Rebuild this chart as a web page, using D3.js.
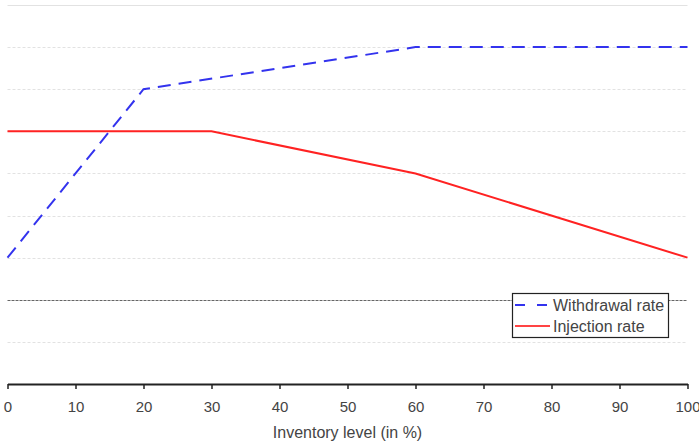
<!DOCTYPE html>
<html>
<head>
<meta charset="utf-8">
<script src="https://cdn.jsdelivr.net/npm/d3@7"></script>
<style>
  body { margin: 0; background: #fff; }
  svg { display: block; font-family: "Liberation Sans", Arial, sans-serif; }
</style>
</head>
<body>
<svg id="chart" width="699" height="448"></svg>
<script>
// inventory level (%) breakpoints and rates (arbitrary units, y axis unlabeled)
const withdrawalX = [0, 20, 60, 100];
const withdrawalY = [1, 5, 6, 6];
const injectionX = [0, 30, 60, 100];
const injectionY = [4, 4, 3, 1];
const xTicks = [0, 10, 20, 30, 40, 50, 60, 70, 80, 90, 100];
const yGrid = [-1, 0, 1, 2, 3, 4, 5, 6, 7];
const seriesNames = ["Withdrawal rate", "Injection rate"];

const width = 699, height = 448;
const margin = { top: 5, right: 11.5, bottom: 64, left: 7.5 };

const svg = d3.select("#chart");

const x = d3.scaleLinear()
    .domain([0, 100])
    .range([margin.left, width - margin.right]);

const y = d3.scaleLinear()
    .domain([-2, 7])
    .range([height - margin.bottom, margin.top]);

// gridlines
svg.append("g")
    .selectAll("line")
    .data(yGrid)
    .join("line")
    .attr("x1", x(0))
    .attr("x2", x(100))
    .attr("y1", d => Math.round(y(d)) + 0.5)
    .attr("y2", d => Math.round(y(d)) + 0.5)
    .attr("stroke", d => d === 0 ? "#666" : "#e2e2e2")
    .attr("stroke-width", 1)
    .attr("stroke-dasharray", d => d === 0 ? "3,1" : (d === 7 ? null : "3,2"));

// x axis
const xAxis = svg.append("g")
    .attr("transform", `translate(0,${y(-2)})`)
    .call(d3.axisBottom(x).tickValues(xTicks).tickSize(5).tickSizeOuter(0).tickPadding(12));
xAxis.select(".domain").attr("stroke", "#222").attr("stroke-width", 2);
xAxis.selectAll(".tick line").attr("stroke", "#222").attr("stroke-width", 1.5);
xAxis.selectAll(".tick text")
    .attr("fill", "#444")
    .style("font-size", "15px")
    .style("font-family", "'Liberation Sans', Arial, sans-serif");

svg.append("text")
    .attr("x", (x(0) + x(100)) / 2)
    .attr("y", 438)
    .attr("text-anchor", "middle")
    .attr("fill", "#444")
    .style("font-size", "16px")
    .text("Inventory level (in %)");

const line = d3.line()
    .x(d => x(d[0]))
    .y(d => y(d[1]));

svg.append("path")
    .datum(d3.zip(injectionX, injectionY))
    .attr("fill", "none")
    .attr("stroke", "#f22")
    .attr("stroke-width", 2)
    .attr("d", line);

svg.append("path")
    .datum(d3.zip(withdrawalX, withdrawalY))
    .attr("fill", "none")
    .attr("stroke", "#33e")
    .attr("stroke-width", 2)
    .attr("stroke-dasharray", "13,8")
    .attr("d", line);

// legend
const legend = svg.append("g").attr("transform", "translate(512,293)");
legend.append("rect")
    .attr("x", 0.5).attr("y", 0.5)
    .attr("width", 156).attr("height", 44)
    .attr("fill", "#fff")
    .attr("stroke", "#222")
    .attr("stroke-width", 1.2);
const item = legend.selectAll("g.item")
    .data(seriesNames)
    .join("g")
    .attr("class", "item")
    .attr("transform", (d, i) => `translate(0,${12 + i * 21})`);
item.append("line")
    .attr("x1", 3).attr("x2", 38)
    .attr("stroke", (d, i) => i === 0 ? "#33e" : "#f44")
    .attr("stroke-width", 2)
    .attr("stroke-dasharray", (d, i) => i === 0 ? "10,12" : null);
item.append("text")
    .attr("x", 41)
    .attr("dy", "0.36em")
    .attr("fill", "#444")
    .style("font-size", "16px")
    .text(d => d);
</script>
</body>
</html>
